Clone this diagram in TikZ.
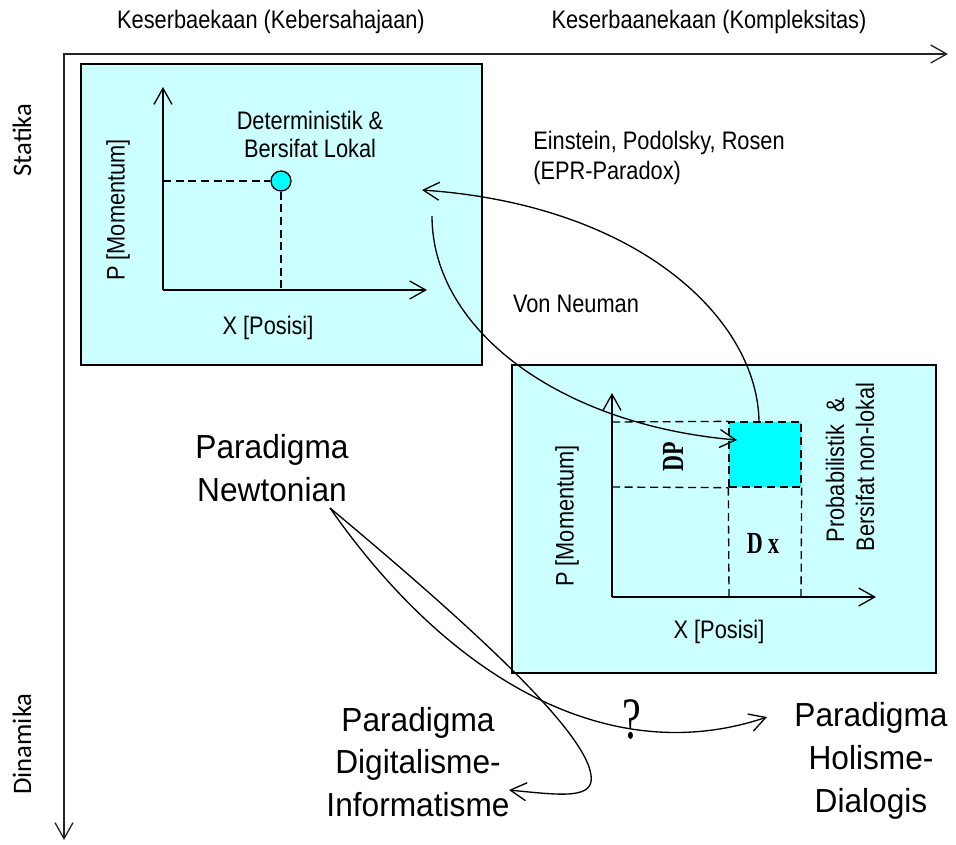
\documentclass[tikz,border=0pt]{standalone}
\usepackage{fontspec}
\setmainfont{Liberation Sans}
\newfontfamily\smallsans{Liberation Sans}[FakeStretch=0.86]
\newfontfamily\bigsans{Liberation Sans}[FakeStretch=0.95]
\newfontfamily\narrowserif{Liberation Serif}[FakeStretch=0.72]
\newfontfamily\axisfont{Carlito}
\usetikzlibrary{arrows.meta}
\definecolor{boxfill}{HTML}{CCFFFF}
\definecolor{cyanfill}{HTML}{00FFFF}
\tikzset{
  barbtip/.tip={Straight Barb[length=12pt,width=13.5pt,line width=1pt]},
  mainaxis/.style={line width=1.3pt,draw=black!85},
  plotaxis/.style={line width=1.1pt,-barbtip},
  curve/.style={line width=1pt,-barbtip},
  plotbox/.style={draw,line width=1.4pt,fill=boxfill,inner sep=0pt,outer sep=0pt},
  dashln/.style={line width=1pt,dash pattern=on 6pt off 3.5pt},
  lbl/.style={font=\smallsans\fontsize{19pt}{21pt}\selectfont,inner sep=0pt,align=center},
  axlbl/.style={font=\axisfont\fontsize{20pt}{22pt}\selectfont,inner sep=0pt,rotate=90},
  biglbl/.style={font=\bigsans\fontsize{25pt}{32pt}\selectfont,inner sep=0pt,align=center},
  serifbold/.style={font=\narrowserif\bfseries\fontsize{23pt}{24pt}\selectfont,inner sep=0pt},
}
\begin{document}
\begin{tikzpicture}[x=0.75pt,y=-0.75pt]
\useasboundingbox (0,0) rectangle (956,844);

% main axes
\coordinate (corner) at (64,54);
\coordinate (xend) at (948,54);
\coordinate (yend) at (64,840);
\draw[mainaxis,barbtip-barbtip] (xend) -- (corner) -- (yend);
\node[lbl] (top1) at (271,22) {Keserbaekaan (Kebersahajaan)};
\node[lbl] (top2) at (709,22) {Keserbaanekaan (Kompleksitas)};
\node[axlbl] (stat) at (22,140) {Statika};
\node[axlbl] (dina) at (22,744) {Dinamika};

% left box
\node[plotbox,minimum width=300.75pt,minimum height=225.75pt] (boxL) at (281.5,214.5) {};
\coordinate (oL) at (163,290);
\coordinate (yL) at (163,87);
\coordinate (xL) at (427,290);
\draw[plotaxis] (oL) -- (yL);
\draw[plotaxis] (oL) -- (xL);
\node[draw,circle,line width=1pt,fill=cyanfill,minimum size=15pt,inner sep=0pt] (pt) at (281,181) {};
\coordinate (pLy) at (163,181);
\coordinate (pLx) at (281,290);
\draw[dashln] (pLy) -- (pt.west);
\draw[dashln] (pt.south) -- (pLx);
\node[lbl] (det) at (310,134) {Deterministik \&\\Bersifat Lokal};
\node[lbl,rotate=90] (pmL) at (118,210) {P [Momentum]};
\node[lbl] (xpL) at (268,328) {X [Posisi]};

% right box
\node[plotbox,minimum width=318pt,minimum height=231pt] (boxR) at (724,519) {};
\node[draw,dashln,fill=cyanfill,minimum width=54pt,minimum height=48.75pt,inner sep=0pt] (sq) at (765,454.5) {};
\coordinate (oR) at (612,597);
\coordinate (yR) at (612,393);
\coordinate (xR) at (876,597);
\coordinate (d1) at (612,422);
\coordinate (d2) at (612,487);
\coordinate (d3) at (729,597);
\coordinate (d4) at (801,597);
\draw[dashln] (d1) -- (sq.north west);
\draw[dashln] (d2) -- (sq.south west);
\draw[dashln] (sq.south west) -- (d3);
\draw[dashln] (sq.south east) -- (d4);
\draw[plotaxis] (oR) -- (yR);
\draw[plotaxis] (oR) -- (xR);
\node[serifbold,rotate=90] (dp) at (673,457) {DP};
\node[serifbold] (dx) at (763,543) {D x};
\node[lbl,rotate=90] (pmR) at (567,516) {P [Momentum]};
\node[lbl] (xpR) at (719,632) {X [Posisi]};
\node[lbl,rotate=90] (prob) at (835,470) {Probabilistik\ \ \&};
\node[lbl,rotate=90] (bnl) at (865,467) {Bersifat non-lokal};

% labels between
\node[lbl,align=left,anchor=west,font=\smallsans\fontsize{19pt}{22.5pt}\selectfont] (epr) at (533,158) {Einstein, Podolsky, Rosen\\(EPR-Paradox)};
\node[lbl] (vn) at (576,304) {Von Neuman};

% curves EPR / Von Neuman
\coordinate (epr0) at (759,422);
\coordinate (eprEnd) at (422,190);
\draw[curve] (epr0) .. controls (758,320) and (640,205) .. (eprEnd);
\coordinate (vn0) at (432,216);
\coordinate (vnEnd) at (737,440);
\draw[curve] (vn0) .. controls (432,330) and (560,425) .. (vnEnd);

% paradigms
\node[biglbl] (newt) at (272,468) {Paradigma\\Newtonian};
\node[biglbl] (digi) at (418,762) {Paradigma\\Digitalisme-\\Informatisme};
\node[biglbl] (holi) at (871,761) {Paradigma\\Holisme-\\Dialogis};
\coordinate (nw) at (330,508);
\coordinate (holEnd) at (767,717);
\coordinate (infEnd) at (509,790);
\coordinate (loopR) at (591,775);
\draw[curve] (nw) .. controls (450,680) and (610,770) .. (holEnd);
\draw[line width=1pt] (nw) .. controls (470,625) and (585,730) .. (loopR);
\draw[curve] (loopR) .. controls (595,800) and (560,795) .. (infEnd);
\node[font=\narrowserif\fontsize{44pt}{46pt}\selectfont,inner sep=0pt] (q) at (632,719) {?};
\end{tikzpicture}
\end{document}
